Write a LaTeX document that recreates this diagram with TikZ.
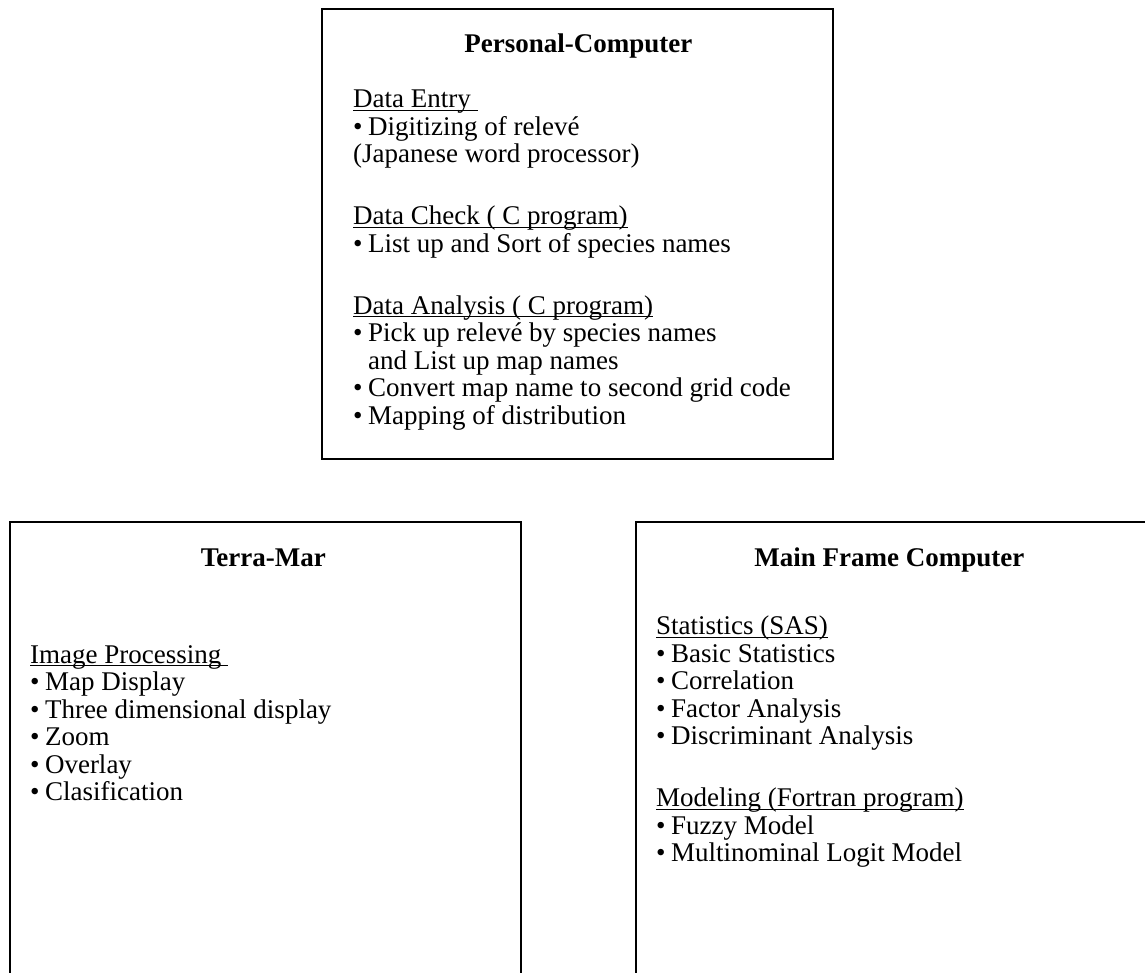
\documentclass[tikz,border=0pt]{standalone}
\usepackage{fontspec}
\setmainfont{Liberation Serif}
\usetikzlibrary{positioning}

\newcommand{\itm}{\textbullet\hspace{0.2em}}
\newcommand{\udl}[1]{\setbox0\hbox{#1}\rlap{\rule[-3pt]{\wd0}{1.2pt}}\box0}

\begin{document}
\begin{tikzpicture}[
    x=1pt, y=-1pt,
    font=\fontsize{27}{27.5}\selectfont,
    panel/.style={draw, line width=1.6pt, anchor=north west, inner sep=0pt, minimum width=511pt, minimum height=500pt},
    heading/.style={font=\fontsize{27}{27.5}\selectfont\bfseries, inner sep=0pt, anchor=base},
    body/.style={align=left, inner sep=0pt, anchor=north west}
]
\useasboundingbox (0,0) rectangle (1145,972);
\clip (0,0) rectangle (1145,972);

% Boxes
\node[panel, minimum height=450pt] (pc) at (321,8) {};
\node[panel] (terra) at (9,521) {};
\node[panel] (mainframe) at (635,521) {};

% Titles
\node[heading] (pchead) at ([xshift=1pt, yshift=-44pt]pc.north) {Personal-Computer};
\node[heading] (terrahead) at ([xshift=-2pt, yshift=-45pt]terra.north) {Terra-Mar};
\node[heading] (mainhead) at ([xshift=-2pt, yshift=-45pt]mainframe.north) {Main Frame Computer};

% Contents
\node[body] (pcbody) at ([xshift=32pt, yshift=-82pt]pc.north west) {%
\udl{Data Entry\ }\\
\itm Digitizing of relevé\\
(Japanese word processor)\\[34.5pt]
\udl{Data Check ( C program)}\\
\itm List up and Sort of species names\\[34.5pt]
\udl{Data Analysis ( C program)}\\
\itm Pick up relevé by species names\\
\phantom{\itm}and List up map names\\
\itm Convert map name to second grid code\\
\itm Mapping of distribution};

\node[body] (terrabody) at ([xshift=21pt, yshift=-124pt]terra.north west) {%
\udl{Image Processing\ }\\
\itm Map Display\\
\itm Three dimensional display\\
\itm Zoom\\
\itm Overlay\\
\itm Clasification};

\node[body] (mainbody) at ([xshift=21pt, yshift=-95pt]mainframe.north west) {%
\udl{Statistics (SAS)}\\
\itm Basic Statistics\\
\itm Correlation\\
\itm Factor Analysis\\
\itm Discriminant Analysis\\[34.5pt]
\udl{Modeling (Fortran program)}\\
\itm Fuzzy Model\\
\itm Multinominal Logit Model};
\end{tikzpicture}
\end{document}
